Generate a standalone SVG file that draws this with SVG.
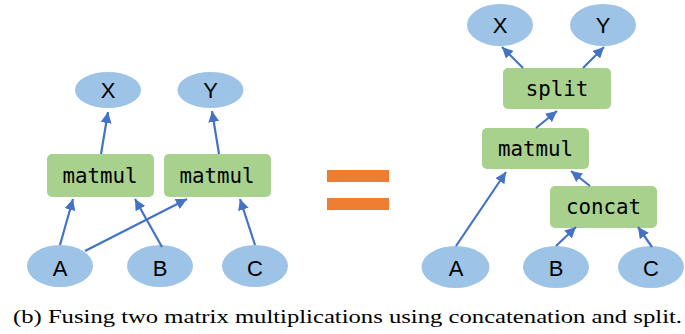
<svg xmlns="http://www.w3.org/2000/svg" width="685" height="334" viewBox="0 0 685 334">
  <defs>
    <marker id="arrow" viewBox="0 0 10 10" refX="10" refY="5" markerWidth="5" markerHeight="5" markerUnits="strokeWidth" orient="auto">
      <path d="M0,0 L10,5 L0,10 z" fill="#4472C4"/>
    </marker>
    <style>
      .val ellipse { fill: #9DC3E6; }
      .val text { font-family: "Liberation Sans", Arial, sans-serif; font-size: 22px; fill: #000; text-anchor: middle; }
      .op rect { fill: #A9D18E; }
      .op text { font-family: "DejaVu Sans Mono", monospace; font-size: 20.8px; fill: #000; text-anchor: middle; }
      .edge { stroke: #4472C4; stroke-width: 2.2; fill: none; marker-end: url(#arrow); }
      .eq { fill: #ED7D31; }
      .caption { font-family: "Liberation Serif", "DejaVu Serif", serif; font-size: 18px; fill: #000; }
    </style>
  </defs>

  <!-- left graph: two separate matmuls -->
  <g id="L_X" class="val"><ellipse cx="108" cy="90" rx="33" ry="18"/><text x="108" y="98">X</text></g>
  <g id="L_Y" class="val"><ellipse cx="210.5" cy="90" rx="33" ry="18"/><text x="210.5" y="98">Y</text></g>
  <g id="L_matmul1" class="op"><rect x="47" y="154" width="107" height="43" rx="5"/><text x="100" y="182.5">matmul</text></g>
  <g id="L_matmul2" class="op"><rect x="164" y="154" width="107" height="43" rx="5"/><text x="217" y="182.5">matmul</text></g>
  <g id="L_A" class="val"><ellipse cx="60" cy="266" rx="33" ry="21"/><text x="60" y="276">A</text></g>
  <g id="L_B" class="val"><ellipse cx="160" cy="266" rx="33" ry="21"/><text x="160" y="276">B</text></g>
  <g id="L_C" class="val"><ellipse cx="255" cy="266" rx="33" ry="21"/><text x="255" y="276">C</text></g>

  <!-- equals sign -->
  <g id="equals">
    <rect class="eq" x="327" y="170" width="62" height="12"/>
    <rect class="eq" x="327" y="198" width="62" height="12"/>
  </g>

  <!-- right graph: concat, one matmul, split -->
  <g id="R_X" class="val"><ellipse cx="500" cy="25" rx="33" ry="21"/><text x="500" y="33">X</text></g>
  <g id="R_Y" class="val"><ellipse cx="603" cy="25" rx="33" ry="21"/><text x="603" y="33">Y</text></g>
  <g id="R_split" class="op"><rect x="503" y="68" width="108" height="41" rx="5"/><text x="557" y="96">split</text></g>
  <g id="R_matmul" class="op"><rect x="482" y="128" width="107" height="41" rx="5"/><text x="535.5" y="156">matmul</text></g>
  <g id="R_concat" class="op"><rect x="550" y="186" width="107" height="42" rx="5"/><text x="603.5" y="214">concat</text></g>
  <g id="R_A" class="val"><ellipse cx="455.5" cy="267" rx="34" ry="21"/><text x="456" y="276">A</text></g>
  <g id="R_B" class="val"><ellipse cx="556" cy="267" rx="33" ry="21"/><text x="556" y="276">B</text></g>
  <g id="R_C" class="val"><ellipse cx="651" cy="267" rx="33" ry="21"/><text x="651" y="276">C</text></g>

  <!-- connectors -->
  <g id="connectors">
    <line class="edge" x1="101" y1="154" x2="108" y2="112"/>
    <line class="edge" x1="219" y1="154" x2="212" y2="111"/>
    <line class="edge" x1="60" y1="245" x2="73" y2="199"/>
    <line class="edge" x1="162" y1="247" x2="135" y2="199"/>
    <line class="edge" x1="85" y1="251" x2="187" y2="199"/>
    <line class="edge" x1="255" y1="245" x2="240" y2="199"/>

    <line class="edge" x1="523" y1="68" x2="502" y2="47"/>
    <line class="edge" x1="583" y1="68" x2="604" y2="47"/>
    <line class="edge" x1="536" y1="128" x2="557" y2="111"/>
    <line class="edge" x1="590" y1="186" x2="571" y2="171"/>
    <line class="edge" x1="456" y1="246" x2="506" y2="172"/>
    <line class="edge" x1="556" y1="246" x2="576" y2="227"/>
    <line class="edge" x1="652" y1="247" x2="638" y2="227"/>
  </g>

  <text class="caption" x="13" y="323" textLength="669" lengthAdjust="spacingAndGlyphs">(b) Fusing two matrix multiplications using concatenation and split.</text>
</svg>
